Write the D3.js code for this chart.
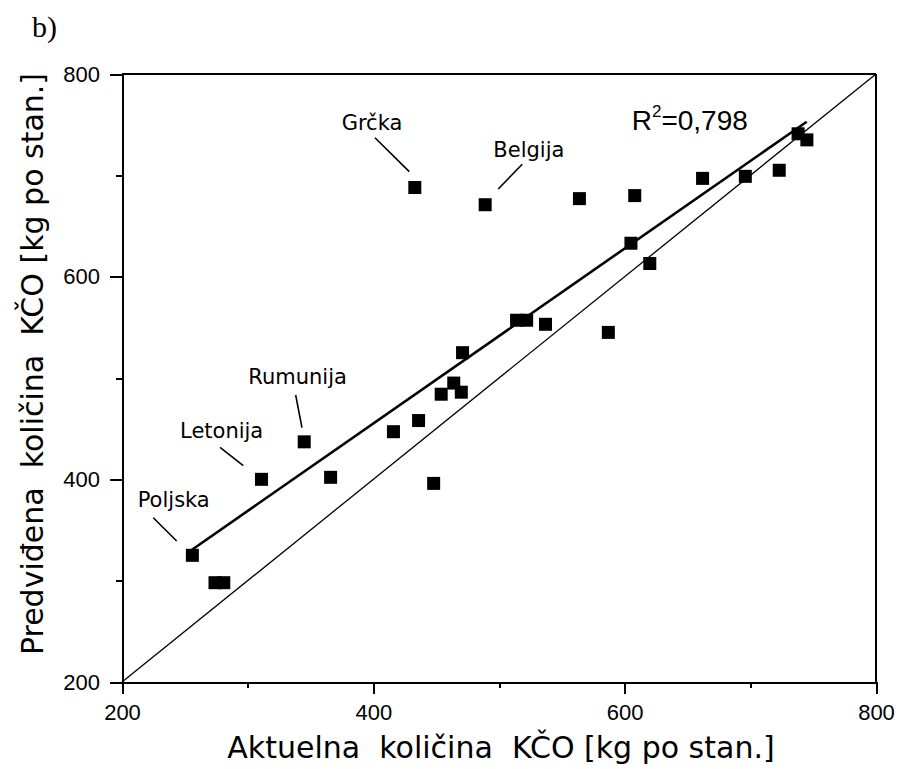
<!DOCTYPE html>
<html lang="sr">
<head>
<meta charset="utf-8">
<title>Predviđena vs aktuelna količina KČO</title>
<script src="https://cdn.jsdelivr.net/npm/d3@7"></script>
<style>
  body { margin: 0; background: #fff; }
  svg { display: block; }
  .axis path, .axis line { stroke: #000; stroke-width: 2; shape-rendering: crispEdges; }
  .axis-title { font-family: "DejaVu Sans", Verdana, sans-serif; font-size: 30px; text-anchor: middle; white-space: pre; }
  .country { font-family: "DejaVu Sans", Verdana, sans-serif; font-size: 21px; }
  .leader { stroke: #000; stroke-width: 1.6; }
  .r2 { font-family: "Liberation Sans", Arial, sans-serif; font-size: 28px; }
  .panel { font-family: "Liberation Serif", "Times New Roman", serif; font-size: 30px; }
</style>
</head>
<body>
<div id="chart"></div>
<script>
// actual (x) and predicted (y) municipal waste, kg per capita
var actual    = [256, 274, 281, 311, 345, 366, 416, 436, 454, 464, 470, 471, 448, 433, 489, 514, 522, 537, 564, 587, 608, 605, 620, 662, 696, 723, 738, 745];
var predicted = [325, 298, 298, 400, 437, 402, 447, 458, 484, 495, 486, 525, 396, 688, 671, 557, 557, 553, 677, 545, 680, 633, 613, 697, 699, 705, 741, 735];

// fitted regression line (end points)
var fitX = [255.4, 744.9];
var fitY = [330.3, 752.9];

var xTicks = [200, 400, 600, 800];
var yTicks = [200, 400, 600, 800];
var minorTicks = [300, 500, 700];

// labelled countries: text, text anchor, leader line (all in data units)
var labelNames = ["Grčka", "Belgija", "Rumunija", "Letonija", "Poljska"];
var labelX     = [374.8, 495.5, 300.5, 246.2, 212.5];
var labelY     = [744.7, 717.8, 494.1, 440.5, 373.0];
var leaderX1   = [401.3, 518.5, 338.2, 278.0, 224.9];
var leaderY1   = [737.1, 710.9, 483.2, 431.6, 362.1];
var leaderX2   = [428.6, 499.4, 343.2, 296.5, 243.5];
var leaderY2   = [703.6, 686.5, 451.0, 413.5, 339.1];

var width = 898, height = 769;
var margin = {left: 122, right: 876, top: 74, bottom: 682};

var svg = d3.select("#chart").append("svg")
    .attr("width", width)
    .attr("height", height);

var x = d3.scaleLinear().domain([200, 800]).range([margin.left, margin.right]);
var y = d3.scaleLinear().domain([200, 800]).range([margin.bottom, margin.top]);

// frame (top and right)
svg.append("line").attr("x1", margin.left).attr("x2", margin.right).attr("y1", margin.top).attr("y2", margin.top)
   .attr("stroke", "#000").attr("stroke-width", 2).style("shape-rendering", "crispEdges");
svg.append("line").attr("x1", margin.right).attr("x2", margin.right).attr("y1", margin.top).attr("y2", margin.bottom)
   .attr("stroke", "#000").attr("stroke-width", 2).style("shape-rendering", "crispEdges");

// minor ticks
svg.append("g").attr("class", "axis")
   .attr("transform", "translate(0," + margin.bottom + ")")
   .call(d3.axisBottom(x).tickValues(minorTicks).tickSize(6).tickSizeOuter(0).tickFormat(""));
svg.append("g").attr("class", "axis")
   .attr("transform", "translate(" + margin.left + ",0)")
   .call(d3.axisLeft(y).tickValues(minorTicks).tickSize(6).tickSizeOuter(0).tickFormat(""));

// major axes
svg.append("g").attr("class", "axis")
   .attr("transform", "translate(0," + margin.bottom + ")")
   .call(d3.axisBottom(x).tickValues(xTicks).tickSize(12).tickSizeOuter(0).tickPadding(10).tickFormat(d3.format("d")))
   .attr("font-family", "'Liberation Sans', Arial, sans-serif")
   .attr("font-size", 22);
svg.append("g").attr("class", "axis")
   .attr("transform", "translate(" + margin.left + ",0)")
   .call(d3.axisLeft(y).tickValues(yTicks).tickSize(12).tickSizeOuter(0).tickPadding(10).tickFormat(d3.format("d")))
   .attr("font-family", "'Liberation Sans', Arial, sans-serif")
   .attr("font-size", 22);

// 1:1 line
svg.append("line")
   .attr("x1", x(200)).attr("y1", y(200))
   .attr("x2", x(800)).attr("y2", y(800))
   .attr("stroke", "#000").attr("stroke-width", 1.3);

// regression line
svg.append("line")
   .attr("x1", x(fitX[0])).attr("y1", y(fitY[0]))
   .attr("x2", x(fitX[1])).attr("y2", y(fitY[1]))
   .attr("stroke", "#000").attr("stroke-width", 2.6);

// points
var sq = 13;
svg.selectAll("rect.pt")
   .data(actual)
   .enter()
   .append("rect")
   .attr("class", "pt")
   .attr("x", function(d) { return x(d) - sq / 2; })
   .attr("y", function(d, i) { return y(predicted[i]) - sq / 2; })
   .attr("width", sq)
   .attr("height", sq)
   .attr("fill", "#000");

// country labels with leader lines
svg.selectAll("line.leader")
   .data(labelNames)
   .enter()
   .append("line")
   .attr("class", "leader")
   .attr("x1", function(d, i) { return x(leaderX1[i]); })
   .attr("y1", function(d, i) { return y(leaderY1[i]); })
   .attr("x2", function(d, i) { return x(leaderX2[i]); })
   .attr("y2", function(d, i) { return y(leaderY2[i]); });

svg.selectAll("text.country")
   .data(labelNames)
   .enter()
   .append("text")
   .attr("class", "country")
   .attr("x", function(d, i) { return x(labelX[i]); })
   .attr("y", function(d, i) { return y(labelY[i]); })
   .text(function(d) { return d; });

// R squared
var r2 = svg.append("text")
   .attr("class", "r2")
   .attr("x", x(605.6))
   .attr("y", y(744.7));
r2.append("tspan").text("R");
r2.append("tspan").attr("dy", -13).style("font-size", "17px").text("2");
r2.append("tspan").attr("dy", 13).text("=0,798");

// axis titles
svg.append("text")
   .attr("class", "axis-title")
   .attr("x", (margin.left + margin.right) / 2 + 2)
   .attr("y", 758)
   .text("Aktuelna  količina  KČO [kg po stan.]");

svg.append("text")
   .attr("class", "axis-title")
   .attr("transform", "translate(43," + 364 + ") rotate(-90)")
   .text("Predviđena  količina  KČO [kg po stan.]");

// panel label
svg.append("text")
   .attr("class", "panel")
   .attr("x", 32)
   .attr("y", 37)
   .text("b)");
</script>
</body>
</html>
